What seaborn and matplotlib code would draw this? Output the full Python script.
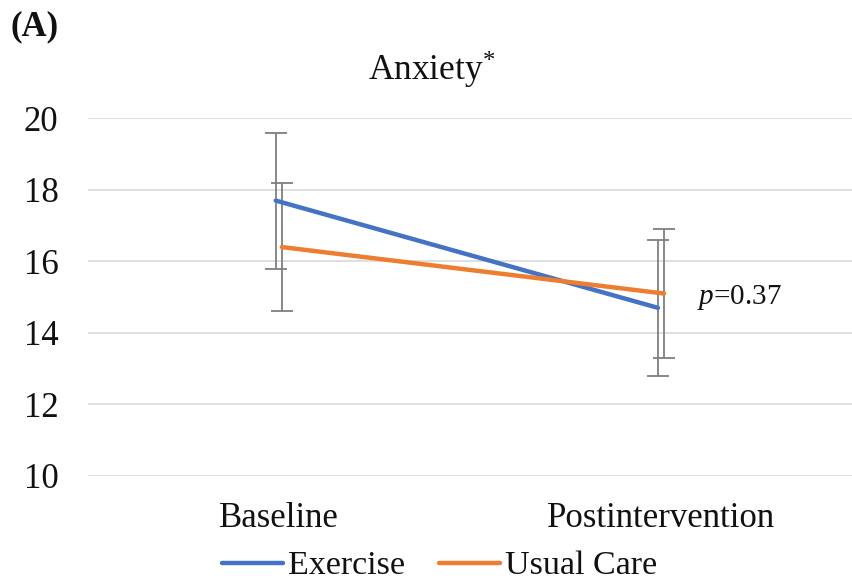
import matplotlib
matplotlib.use("Agg")
import matplotlib.pyplot as plt
import seaborn as sns
import pandas as pd

# Mean anxiety scores with standard deviations
timepoints = ["Baseline", "Postintervention"]
groups = ["Exercise", "Usual Care"]
exercise_mean = [17.7, 14.7]
exercise_sd = [1.9, 1.9]
usual_mean = [16.4, 15.1]
usual_sd = [1.8, 1.8]
y_ticks = [10, 12, 14, 16, 18, 20]
p_label = "0.37"

colors = {"Exercise": "#4472C4", "Usual Care": "#ED7D31"}
offsets = {"Exercise": -0.008, "Usual Care": 0.008}

sns.set_theme(style="white")
plt.rcParams["font.family"] = ["Liberation Serif", "DejaVu Serif"]
plt.rcParams["mathtext.fontset"] = "custom"
plt.rcParams["mathtext.rm"] = "Liberation Serif"
plt.rcParams["mathtext.it"] = "Liberation Serif:italic"
plt.rcParams["text.color"] = "#111111"
plt.rcParams["xtick.color"] = "#111111"
plt.rcParams["ytick.color"] = "#111111"

rows = []
for g, means, sds in [("Exercise", exercise_mean, exercise_sd),
                      ("Usual Care", usual_mean, usual_sd)]:
    for i, (m, s) in enumerate(zip(means, sds)):
        rows.append({"group": g, "pos": i + offsets[g], "score": m, "sd": s})
df = pd.DataFrame(rows)

fig = plt.figure(figsize=(8.52, 5.86), dpi=100)
ax = fig.add_axes([0.103, 0.188, 0.897, 0.61])

# Error bars first so the lines sit on top
for g in groups:
    sub = df[df.group == g]
    ax.errorbar(sub["pos"], sub["score"], yerr=sub["sd"], fmt="none",
                ecolor="#7f7f7f", elinewidth=1.3, capsize=8, capthick=1.3,
                zorder=2)

sns.lineplot(data=df, x="pos", y="score", hue="group", hue_order=groups,
             palette=colors, linewidth=3.2, ax=ax, legend=False, zorder=3)

ax.set_xlim(-0.5, 1.5)
ax.set_ylim(10, 20)
ax.set_yticks(y_ticks)
ax.set_yticklabels([str(t) for t in y_ticks])
ax.set_xticks([0, 1])
ax.set_xticklabels(timepoints)
ax.tick_params(axis="both", length=0, labelsize=25)
ax.tick_params(axis="x", pad=19)
ax.tick_params(axis="y", pad=21)
ax.set_xlabel("")
ax.set_ylabel("")
ax.yaxis.grid(True, color="#d9d9d9", linewidth=1.2)
ax.set_axisbelow(True)
for s in ax.spines.values():
    s.set_visible(False)

ax.text(1.095, 15.0, r"$\mathit{p}$=" + p_label, fontsize=21, va="center",
        ha="left")

fig.text(0.507, 0.88, r"Anxiety$^{*}$", fontsize=25.5, ha="center",
         va="center")
fig.text(0.012, 0.955, "(A)", fontsize=25, fontweight="bold", ha="left",
         va="center")

handles = [plt.Line2D([0], [0], color=colors[g], linewidth=3.2) for g in groups]
fig.legend(handles, groups, loc="center", bbox_to_anchor=(0.516, 0.034),
           ncol=2, frameon=False, fontsize=24.5, handlelength=1.8,
           handletextpad=0.15, columnspacing=1.0, borderpad=0.1)

fig.savefig("out.png", dpi=100)
